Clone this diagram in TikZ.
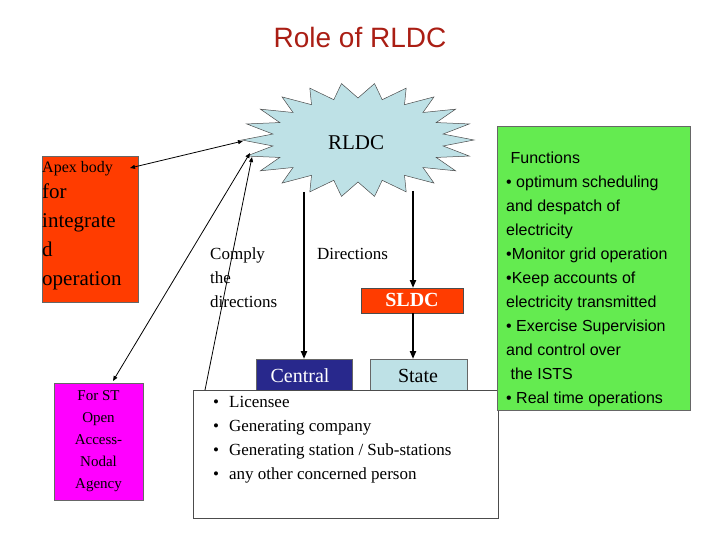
\documentclass[tikz,border=0pt]{standalone}
\usepackage{fontspec}
\setmainfont{Liberation Serif}
\newfontfamily\sansf{Liberation Sans}
\usetikzlibrary{shapes.geometric,arrows.meta}
\definecolor{titlered}{RGB}{170,30,20}
\definecolor{apexred}{RGB}{255,60,0}
\definecolor{starblue}{RGB}{190,225,230}
\definecolor{centralblue}{RGB}{40,40,140}
\definecolor{fgreen}{RGB}{100,235,80}
\definecolor{pmag}{RGB}{255,0,255}
\tikzset{
  box/.style={draw=black!60, inner sep=0pt, anchor=north west},
  thickarrow/.style={-{Triangle[length=8pt,width=6pt]}, line width=2.5pt},
  thinarrow/.style={{Triangle[length=5pt,width=4pt]}-{Triangle[length=5pt,width=4pt]}, line width=0.8pt}
}
\begin{document}
\begin{tikzpicture}[x=1pt,y=-1pt]
\useasboundingbox (0,0) rectangle (720,540);
% title
\node[text=titlered, font=\sansf\fontsize{28}{30}\selectfont] (title) at (360,37) {Role of RLDC};
% star
\fill[starblue, draw=black!70, line width=0.5pt]
  plot[samples at={0,...,43}, variable=\k]
  ({358+(mod(\k,2)==0 ? 116 : 86)*cos(\k*360/44)},
   {140+(mod(\k,2)==0 ? 57 : 42)*sin(\k*360/44)}) -- cycle;
\node[ellipse, minimum width=200pt, minimum height=100pt, inner sep=0pt] (rldc) at (358,140) {};
\node[font=\fontsize{21}{24}\selectfont] (rldct) at (356,143) {RLDC};
% left boxes
\node[box, fill=apexred, minimum width=96pt, minimum height=146pt] (apex) at (42,156) {};
\node[anchor=north west, inner sep=0pt, font=\fontsize{16}{18}\selectfont] (apext1) at (42,161) {Apex body};
\node[anchor=north west, align=left, inner sep=0pt, font=\fontsize{21}{29}\selectfont] (apext) at (42,184)
  {for\\integrate\\d\\operation};
\node[box, fill=pmag, minimum width=89pt, minimum height=117pt] (st) at (54,383) {};
\node[align=center, inner sep=0pt, font=\fontsize{15}{22}\selectfont] (stt) at (98.5,441)
  {For ST\\Open\\Access-\\Nodal\\Agency};
% lower boxes
\node[box, fill=centralblue, minimum width=96pt, minimum height=32pt] (central) at (256,359) {};
\node[white, font=\fontsize{20}{22}\selectfont] (centralt) at (300,376) {Central};
\node[box, fill=starblue, minimum width=97pt, minimum height=32pt] (state) at (370,359) {};
\node[font=\fontsize{20}{22}\selectfont] (statet) at (418,376) {State};
\node[box, draw=black!70, fill=apexred, minimum width=102pt, minimum height=25pt] (sldc) at (361,288) {};
\node[white, font=\fontsize{20}{22}\selectfont\bfseries] (sldct) at (412,300) {SLDC};
\node[box, draw=black!70, fill=white, minimum width=305pt, minimum height=128pt] (list) at (193,390) {};
\node[anchor=north west, align=left, inner sep=0pt, font=\fontsize{17}{24}\selectfont] (listt) at (213,396)
  {\textbullet\hspace{10pt}Licensee\\
   \textbullet\hspace{10pt}Generating company\\
   \textbullet\hspace{10pt}Generating station / Sub-stations\\
   \textbullet\hspace{10pt}any other concerned person};
% green box
\node[box, fill=fgreen, minimum width=193pt, minimum height=284pt] (func) at (497,126) {};
\node[anchor=north west, align=left, inner sep=0pt, font=\sansf\fontsize{16}{24}\selectfont] (funct) at (506,152)
  {\ Functions\\
   \textbullet\ optimum scheduling\\
   and despatch of\\
   electricity\\
   \textbullet Monitor grid operation\\
   \textbullet Keep accounts of\\
   electricity transmitted\\
   \textbullet\ Exercise Supervision\\
   and control over\\
   \ the ISTS\\
   \textbullet\ Real time operations};
% labels
\node[anchor=north west, align=left, inner sep=0pt, font=\fontsize{17}{24}\selectfont] (comply) at (210,248)
  {Comply\\the\\directions};
\node[anchor=north west, inner sep=0pt, font=\fontsize{17}{24}\selectfont] (dir) at (317,248) {Directions};
% connectors
\coordinate (rl1) at (243,141);
\coordinate (rl2) at (250,153);
\coordinate (rl3) at (252,157);
\coordinate (rc) at (304,192);
\coordinate (rs) at (413,191);
\coordinate (apexp) at (130,168);
\coordinate (stp) at (113,381);
\coordinate (listp) at (205,390);
\draw[thinarrow] (apexp) -- (rl1);
\draw[thinarrow] (stp) -- (rl2);
\draw[-{Triangle[length=5pt,width=4pt]}, line width=0.8pt] (listp) -- (rl3);
\draw[thickarrow] (rc) -- (rc |- central.north);
\draw[thickarrow] (rs) -- (rs |- sldc.north);
\draw[thickarrow] (sldc.south -| rs) -- (rs |- state.north);
\end{tikzpicture}
\end{document}
